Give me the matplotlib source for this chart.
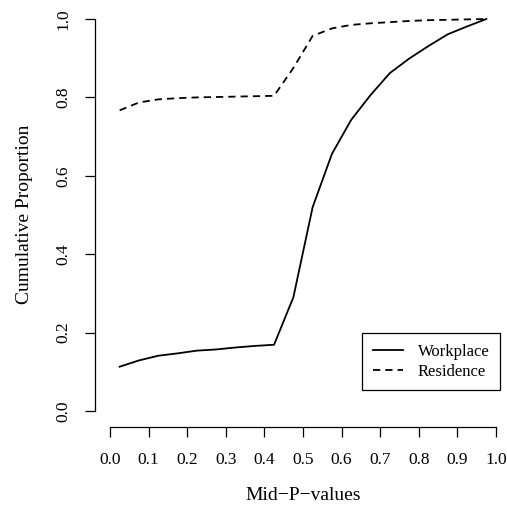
import matplotlib
matplotlib.use("Agg")
import matplotlib.pyplot as plt
import numpy as np

mid_p = [0.025, 0.075, 0.125, 0.175, 0.225, 0.275, 0.325, 0.375, 0.425, 0.475,
         0.525, 0.575, 0.625, 0.675, 0.725, 0.775, 0.825, 0.875, 0.925, 0.975]
workplace = [0.113, 0.129, 0.141, 0.147, 0.154, 0.157, 0.162, 0.166, 0.169, 0.290,
             0.520, 0.656, 0.743, 0.806, 0.862, 0.899, 0.931, 0.961, 0.981, 1.000]
residence = [0.767, 0.787, 0.795, 0.798, 0.800, 0.801, 0.802, 0.803, 0.804, 0.875,
             0.957, 0.976, 0.985, 0.989, 0.992, 0.995, 0.997, 0.998, 0.999, 1.000]
xticks = [0.0, 0.1, 0.2, 0.3, 0.4, 0.5, 0.6, 0.7, 0.8, 0.9, 1.0]
yticks = [0.0, 0.2, 0.4, 0.6, 0.8, 1.0]

plt.rcParams['font.family'] = ['Liberation Serif', 'DejaVu Serif']
W, H = 507, 513
fig = plt.figure(figsize=(W / 100, H / 100), dpi=100)

# pixel geometry: x 0->110, 1->496 ; y 1->19, 0->411
x0, x1 = 110, 496
y1, y0 = 19, 411
sx = x1 - x0
sy = y0 - y1
left = (x0 - 0.04 * sx) / W
width = 1.08 * sx / W
bottom = (H - (y0 + 0.04 * sy)) / H
height = 1.08 * sy / H
ax = fig.add_axes([left, bottom, width, height])
ax.set_xlim(-0.04, 1.04)
ax.set_ylim(-0.04, 1.04)

ax.plot(mid_p, workplace, color='black', lw=1.3, ls='-', label='Workplace')
ax.plot(mid_p, residence, color='black', lw=1.3, ls=(0, (4, 2.8)), label='Residence')

for s in ['top', 'right']:
    ax.spines[s].set_visible(False)
ax.spines['left'].set_bounds(0, 1)
ax.spines['bottom'].set_bounds(0, 1)
for s in ['left', 'bottom']:
    ax.spines[s].set_linewidth(0.9)
ax.set_xticks(xticks)
ax.set_xticklabels([f"{t:.1f}" for t in xticks])
ax.set_yticks(yticks)
ax.set_yticklabels([f"{t:.1f}" for t in yticks], rotation=90, va='center')
ax.tick_params(axis='both', direction='out', length=7.5, width=0.9, labelsize=12.5)
ax.tick_params(axis='x', pad=11)
ax.tick_params(axis='y', pad=9)

ax.set_xlabel('Mid\u2212P\u2212values', fontsize=14)
ax.set_ylabel('Cumulative Proportion', fontsize=14)
ax.xaxis.set_label_coords((303 - left * W) / (width * W), (H - 496 - bottom * H) / (height * H))
ax.xaxis.label.set_va('center')
ax.yaxis.set_label_coords((25 - left * W) / (width * W), (H - 214 - bottom * H) / (height * H))
ax.yaxis.label.set_va('center')

# legend box ~ x 362-498, y 333-390 px
leg = ax.legend(loc='upper left', bbox_to_anchor=(362 / W, 1 - 333 / H),
                bbox_transform=fig.transFigure, fancybox=False, framealpha=1,
                edgecolor='black', fontsize=12, handlelength=1.8, handletextpad=0.9,
                borderpad=0.65, labelspacing=0.22, borderaxespad=0)
leg.get_frame().set_linewidth(0.9)

fig.savefig('out.png', dpi=100)
